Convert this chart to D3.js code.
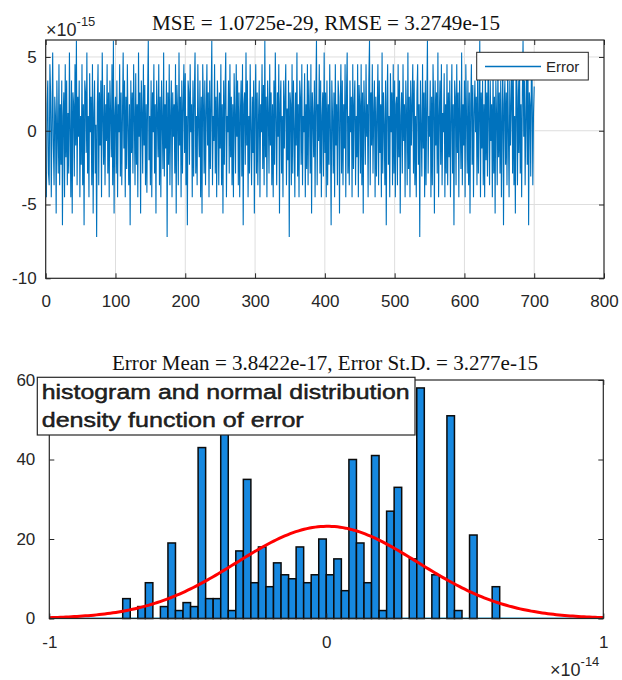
<!DOCTYPE html>
<html>
<head>
<meta charset="utf-8">
<script src="https://cdn.jsdelivr.net/npm/d3@7"></script>
<style>
body { margin: 0; background: #fff; }
text { font-family: "Liberation Sans", Arial, sans-serif; fill: #262626; }
text.serif { font-family: "Liberation Serif", "Times New Roman", serif; fill: #111; }
</style>
</head>
<body>
<svg id="chart" width="622" height="680"></svg>
<script>
/* Error signal, x1e-15 (one value per sample, 1..700) */
var errorValues = [
-4.5,1.8,3.4,-2.9,-3.7,4.5,2.6,-4.5,0.4,5.3,-1.0,-3.7,2.3,1.0,-5.6,3.4,-0.1,-2.9,4.5,-3.7,1.8,-2.3,3.4,-6.4,1.0,
2.6,-4.5,4.5,-1.8,3.4,-3.7,1.2,-2.9,5.3,0.1,-4.5,3.4,-5.6,2.6,1.8,-3.1,4.5,-1.0,6.1,-3.7,2.3,-0.4,3.4,-4.5,1.0,
-2.3,4.5,-3.7,1.8,-6.4,3.4,2.6,-1.5,5.3,-2.9,1.0,-4.5,3.9,-0.1,2.3,-3.7,4.5,-5.6,1.2,3.4,-2.9,0.4,-7.2,1.8,4.5,
-3.7,2.6,-1.0,3.4,-4.5,5.3,1.0,-2.3,3.1,-3.7,1.8,-0.7,4.5,-2.9,2.6,-4.5,3.4,1.2,-1.8,4.5,-3.7,6.1,-5.6,1.0,2.3,
-2.9,3.4,-4.5,1.8,-0.1,4.5,-3.1,2.6,-3.7,1.0,5.3,-1.2,3.4,-4.5,2.3,-2.6,4.5,0.4,-3.7,1.8,-6.4,3.4,-1.5,2.6,-2.9,
4.5,1.0,-3.7,3.9,-2.3,1.8,-4.5,5.3,-0.4,2.6,-5.6,3.4,1.2,-2.9,4.5,-1.0,3.1,-3.7,1.8,-4.2,2.3,6.1,-2.0,1.0,-3.7,
3.4,-4.5,2.6,-0.1,4.5,-2.9,1.8,-5.6,3.4,1.0,-1.8,4.5,-3.7,2.3,-4.5,3.4,0.7,-2.6,5.3,-3.1,1.8,-1.2,3.4,-7.2,2.6,
-2.3,4.5,-3.7,1.0,3.4,-4.5,2.6,-0.4,1.8,-2.9,4.5,-5.6,3.1,1.2,-3.7,5.3,-1.0,2.3,-4.5,3.4,-2.9,1.8,4.5,-1.5,3.9,
-3.7,1.0,-6.4,3.4,2.6,-2.3,4.5,-0.1,1.8,-4.5,3.4,-3.1,2.6,5.3,-2.9,1.0,-3.7,4.5,0.4,-1.8,3.4,-4.5,2.3,-5.6,4.5,
1.8,-2.9,3.4,-3.7,1.2,4.5,-1.0,2.6,-4.5,3.4,-2.6,1.8,6.1,-3.7,1.0,-0.7,4.5,-2.9,2.3,-4.5,3.4,1.5,-3.7,2.6,-1.2,
4.5,-3.7,1.8,-5.6,3.4,-2.3,2.6,5.3,-4.5,1.0,-0.1,3.4,-2.9,4.5,-1.8,2.3,-3.7,1.8,-4.5,3.9,1.0,-2.9,4.5,-0.4,3.4,
-3.7,2.6,-4.5,1.2,3.4,-3.1,4.5,-6.4,1.8,2.6,-2.3,5.3,-1.0,3.4,-4.5,1.0,-2.9,4.5,0.1,-3.7,2.3,-1.5,3.4,-5.6,1.8,
4.5,-2.9,2.6,-3.7,1.0,3.4,-4.5,1.8,-0.1,4.5,-2.6,3.1,-3.7,6.1,-1.8,2.3,-4.5,3.4,1.2,-2.9,4.5,-1.0,2.6,-3.7,1.8,
-4.5,3.4,-2.3,5.3,1.0,-3.7,2.6,-0.4,4.5,-5.6,1.8,3.4,-2.9,1.0,-4.5,3.4,-1.2,2.3,4.5,-3.7,1.5,-2.0,3.4,-7.2,2.6,
1.8,-3.7,4.5,-2.9,3.4,0.4,-4.5,2.6,-1.0,5.3,-3.1,1.8,-4.5,3.4,2.3,-2.3,4.5,-3.7,1.0,-0.1,3.9,-4.5,1.8,-2.6,4.5,
-3.7,3.4,1.2,-2.9,4.5,-5.6,2.6,1.0,-1.8,3.4,-4.5,2.3,6.1,-3.7,1.8,-0.7,4.5,-2.9,3.4,-4.5,1.0,2.6,-3.1,5.3,-1.5,
2.6,-4.5,3.4,-3.7,1.8,-2.3,4.5,0.1,-6.4,3.4,1.0,-2.9,2.6,-4.5,4.5,-1.0,1.8,-3.7,3.4,2.3,-5.6,1.2,4.5,-2.9,3.4,
-3.7,1.8,-1.2,4.5,-4.5,2.6,5.3,-2.9,1.0,-3.7,3.4,-0.1,2.3,-4.5,4.5,-2.6,1.8,3.4,-3.7,1.0,-1.8,4.5,-4.5,3.1,1.8,
-2.9,4.5,-3.7,2.6,-5.6,3.4,1.0,-2.3,4.5,-0.4,1.8,-4.5,3.4,6.1,-3.7,2.6,-1.0,4.5,-2.9,1.2,3.4,-4.5,2.3,-3.1,1.0,
4.5,-3.7,3.4,-1.5,1.8,-4.5,5.3,-2.9,2.6,0.4,-3.7,3.4,-6.4,1.8,4.5,-2.3,1.0,-4.5,3.9,-0.1,2.6,-3.7,4.5,-2.9,3.4,
-4.5,1.8,2.3,-3.7,4.5,-1.8,3.4,-5.6,1.0,2.6,-2.9,4.5,-0.7,1.8,-4.5,3.4,1.2,-3.7,5.3,-2.6,2.3,-4.5,3.4,-1.0,1.8,
4.5,-2.9,3.4,-3.7,1.0,-4.5,2.6,4.5,-2.3,1.8,-7.2,3.4,0.1,-3.1,4.5,-1.2,2.6,-4.5,3.4,-3.7,1.8,6.1,-2.9,1.0,-0.4,
3.4,-4.5,2.3,-3.7,4.5,1.8,-5.6,3.4,-1.0,2.6,-2.9,5.3,-4.5,1.0,3.4,-2.3,4.5,-3.7,1.2,-0.1,3.9,-4.5,1.8,-2.9,4.5,
-3.7,2.6,-1.8,3.4,-4.5,1.0,4.5,-2.9,1.8,-6.4,3.4,2.3,-3.7,4.5,-1.5,2.6,-4.5,3.4,0.4,-2.6,5.3,-3.7,1.8,-1.0,3.4,
-4.5,4.5,1.0,-2.9,3.4,-3.7,2.6,-5.6,1.8,4.5,-2.3,3.1,-4.5,1.2,3.4,-0.1,2.3,-3.7,4.5,-2.9,1.0,6.1,-4.5,2.6,-1.2,
3.4,-3.7,1.8,-4.5,4.5,-2.0,2.6,-3.1,5.3,1.0,-3.7,3.4,-0.7,1.8,-4.5,4.5,-2.9,2.3,-5.6,3.4,1.2,-3.7,4.5,-1.8,2.6,
-2.9,3.4,-4.5,1.0,4.5,-6.4,1.8,3.4,-2.3,2.6,-3.7,4.5,0.1,-4.5,3.4,-1.0,1.8,5.3,-2.9,3.9,-3.7,1.0,-5.6,4.5,2.3,
-3.7,3.4,-1.5,4.5,-2.9,1.8,-4.5,2.6,6.1,-0.4,3.4,-3.7,1.0,4.5,-2.3,5.3,-6.4,2.6,1.8,-3.1,4.5,3.4,-3.7,1.2,3.0
];
var errorTicksX = [0, 100, 200, 300, 400, 500, 600, 700, 800];
var errorTicksY = [-10, -5, 0, 5];

/* Histogram of the error, x1e-14 */
var histStart = -0.735;
var histWidth = 0.02722;
var histCounts = [
5,0,3,9,0,3,19,2,4,3,
43,5,5,47,2,17,35,9,18,8,
14,11,10,18,9,11,20,11,15,7,
40,19,9,41,2,27,33,0,15,58,
0,11,0,51,2,0,21,0,0,8
];
var histTicksX = [-1, 0, 1];
var histTicksY = [0, 20, 40, 60];
var errMean = 0.0038422;   // 3.8422e-17
var errStd = 0.3277;       // 3.277e-15

var svg = d3.select("#chart");
var BLUE = "#0072bd";

function plain(d) { return String(d); }

function drawBox(g, b, x, y, ticksX, ticksY, padX, padY) {
	g.append("g").attr("transform", "translate(0," + b.bottom + ")")
		.call(d3.axisBottom(x).tickValues(ticksX).tickSize(-5).tickPadding(padX).tickFormat(plain));
	g.append("g").attr("transform", "translate(0," + b.top + ")")
		.call(d3.axisTop(x).tickValues(ticksX).tickSize(-5).tickFormat(""));
	g.append("g").attr("transform", "translate(" + b.left + ",0)")
		.call(d3.axisLeft(y).tickValues(ticksY).tickSize(-5).tickPadding(padY).tickFormat(plain));
	g.append("g").attr("transform", "translate(" + b.right + ",0)")
		.call(d3.axisRight(y).tickValues(ticksY).tickSize(-5).tickFormat(""));
	g.selectAll(".domain").remove();
	g.selectAll(".tick line").attr("stroke", "#262626");
	g.selectAll(".tick text").style("font-size", "17px").attr("fill", "#1a1a1a");
	g.append("rect").attr("x", b.left).attr("y", b.top)
		.attr("width", b.right - b.left).attr("height", b.bottom - b.top)
		.attr("fill", "none").attr("stroke", "#262626").attr("stroke-width", 1.2);
}

function exponent(g, x, y, label) {
	var t = g.append("text").attr("x", x).attr("y", y).style("font-size", "18px").attr("fill", "#4a4a4a");
	t.append("tspan").text("\u00d710");
	t.append("tspan").attr("dy", -10).style("font-size", "13px").text(label);
}

/* ---- top: error signal ---- */
var b1 = {left: 45.7, right: 604, top: 40, bottom: 278.3};
var x1 = d3.scaleLinear().domain([0, 800]).range([b1.left, b1.right]);
var y1 = d3.scaleLinear().domain([-10, 6.15]).range([b1.bottom, b1.top]);
var g1 = svg.append("g");

// grid
g1.selectAll("line.gx").data(errorTicksX.slice(1, -1)).enter().append("line")
	.attr("x1", function(d) { return x1(d); }).attr("x2", function(d) { return x1(d); })
	.attr("y1", b1.top).attr("y2", b1.bottom).attr("stroke", "#dedede");
g1.selectAll("line.gy").data(errorTicksY.slice(1)).enter().append("line")
	.attr("x1", b1.left).attr("x2", b1.right)
	.attr("y1", function(d) { return y1(d); }).attr("y2", function(d) { return y1(d); })
	.attr("stroke", "#dedede");

g1.append("path").datum(errorValues)
	.attr("d", d3.line().x(function(d, i) { return x1(i + 1); }).y(function(d) { return y1(d); }))
	.attr("fill", "none").attr("stroke", BLUE).attr("stroke-width", 1.1);

drawBox(g1, b1, x1, y1, errorTicksX, errorTicksY, 17, 9);

// legend
var lg = g1.append("g");
lg.append("rect").attr("x", 476.7).attr("y", 52.3).attr("width", 111.6).attr("height", 27.7)
	.attr("fill", "#fff").attr("stroke", "#262626");
lg.append("line").attr("x1", 485).attr("x2", 541).attr("y1", 66.5).attr("y2", 66.5)
	.attr("stroke", BLUE).attr("stroke-width", 1.6);
lg.append("text").attr("x", 546).attr("y", 72).style("font-size", "15px").text("Error");

exponent(g1, 46, 36, "-15");
g1.append("text").attr("class", "serif").attr("x", 326).attr("y", 30).attr("text-anchor", "middle")
	.style("font-size", "20px").attr("textLength", 348).attr("lengthAdjust", "spacingAndGlyphs")
	.text("MSE = 1.0725e-29, RMSE = 3.2749e-15");

/* ---- bottom: histogram + normal fit ---- */
var b2 = {left: 49.3, right: 603.3, top: 380, bottom: 618.5};
var x2 = d3.scaleLinear().domain([-1, 1]).range([b2.left, b2.right]);
var y2 = d3.scaleLinear().domain([0, 60]).range([b2.bottom, b2.top]);
var g2 = svg.append("g");

var bins = histCounts.map(function(c, i) {
	return {x0: histStart + i * histWidth, x1: histStart + (i + 1) * histWidth, n: c};
});

g2.append("line").attr("x1", x2(-1)).attr("x2", x2(1)).attr("y1", b2.bottom - 1).attr("y2", b2.bottom - 1)
	.attr("stroke", "#8fd3ee").attr("stroke-width", 1);

g2.selectAll("rect.bar").data(bins.filter(function(d) { return d.n > 0; })).enter().append("rect")
	.attr("class", "bar")
	.attr("x", function(d) { return x2(d.x0); })
	.attr("width", function(d) { return x2(d.x1) - x2(d.x0); })
	.attr("y", function(d) { return y2(d.n); })
	.attr("height", function(d) { return y2(0) - y2(d.n); })
	.attr("fill", "#1688e0").attr("stroke", "#0b0b0b").attr("stroke-width", 1.5);

// normal pdf scaled to counts
var total = d3.sum(histCounts);
var curve = d3.range(-1, 1.0001, 0.01).map(function(v) {
	var z = (v - errMean) / errStd;
	return [v, total * histWidth * Math.exp(-0.5 * z * z) / (Math.sqrt(2 * Math.PI) * errStd)];
});
g2.append("path").datum(curve)
	.attr("d", d3.line().x(function(d) { return x2(d[0]); }).y(function(d) { return y2(d[1]); }))
	.attr("fill", "none").attr("stroke", "#ff0000").attr("stroke-width", 3);

drawBox(g2, b2, x2, y2, histTicksX, histTicksY, 17, 14);

// text box
var tb = g2.append("g");
tb.append("rect").attr("x", 37.3).attr("y", 377.3).attr("width", 377.7).attr("height", 57.7)
	.attr("fill", "#fff").attr("stroke", "#262626").attr("stroke-width", 1.2);
tb.append("text").attr("x", 41.7).attr("y", 399).style("font-size", "20px").attr("fill", "#000")
	.attr("stroke", "#000").attr("stroke-width", 0.4)
	.attr("textLength", 368).attr("lengthAdjust", "spacingAndGlyphs")
	.text("histogram and normal distribution");
tb.append("text").attr("x", 41.7).attr("y", 427).style("font-size", "20px").attr("fill", "#000")
	.attr("stroke", "#000").attr("stroke-width", 0.4)
	.attr("textLength", 262).attr("lengthAdjust", "spacingAndGlyphs")
	.text("density function of error");

exponent(g2, 550, 676, "-14");
g2.append("text").attr("class", "serif").attr("x", 325).attr("y", 370).attr("text-anchor", "middle")
	.style("font-size", "20px").attr("textLength", 426).attr("lengthAdjust", "spacingAndGlyphs")
	.text("Error Mean = 3.8422e-17, Error St.D. = 3.277e-15");
</script>
</body>
</html>
